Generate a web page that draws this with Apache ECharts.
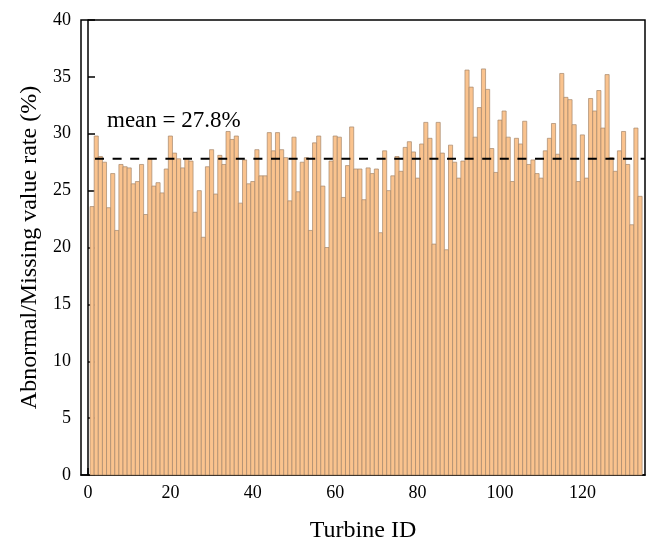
<!DOCTYPE html>
<html>
<head>
<meta charset="utf-8">
<script src="https://cdn.jsdelivr.net/npm/echarts@6/dist/echarts.min.js"></script>
<style>html,body{margin:0;padding:0;background:#fff;}#c{width:656px;height:548px;}</style>
</head>
<body>
<div id="c"></div>
<script>
// ---- data ----
const turbineIds = [];
for (let i = 1; i <= 134; i++) turbineIds.push(i);
const rates = [
  23.6, 29.8, 28.0, 27.5, 23.5, 26.5, 21.5, 27.3, 27.1, 27.0,
  25.6, 25.8, 27.3, 22.9, 27.8, 25.4, 25.7, 24.8, 26.9, 29.8,
  28.3, 27.8, 27.0, 27.8, 27.6, 23.1, 25.0, 20.9, 27.1, 28.6,
  24.7, 28.1, 27.3, 30.2, 29.5, 29.8, 23.9, 27.7, 25.6, 25.8,
  28.6, 26.3, 26.3, 30.1, 28.5, 30.1, 28.6, 27.9, 24.1, 29.7,
  24.9, 27.5, 27.9, 21.5, 29.2, 29.8, 25.4, 20.0, 27.6, 29.8,
  29.7, 24.4, 27.2, 30.6, 26.9, 26.9, 24.2, 27.0, 26.5, 26.9,
  21.3, 28.5, 25.0, 26.3, 28.0, 26.7, 28.8, 29.3, 28.4, 26.1,
  29.1, 31.0, 29.6, 20.3, 31.0, 28.3, 19.8, 29.0, 27.5, 26.1,
  27.6, 35.6, 34.1, 29.7, 32.3, 35.7, 33.9, 28.7, 26.6, 31.2,
  32.0, 29.7, 25.8, 29.6, 29.1, 31.1, 27.3, 27.7, 26.5, 26.1,
  28.5, 29.6, 30.9, 28.2, 35.3, 33.2, 33.0, 30.8, 25.8, 29.9,
  26.1, 33.1, 32.0, 33.8, 30.5, 35.2, 27.9, 26.7, 28.5, 30.2,
  27.3, 22.0, 30.5, 24.5
];
const xTickValues = [0, 20, 40, 60, 80, 100, 120];
const MEAN = 27.8;
const meanLabel = 'mean = 27.8%';

// ---- chart ----
const X_MIN = -1.7, X_MAX = 135.2;
const font = '"Liberation Serif", "Times New Roman", serif';
const barData = turbineIds.map((id, i) => [id, rates[i]]);

const chart = echarts.init(document.getElementById('c'), null, {renderer: 'canvas'});
chart.setOption({
  animation: false,
  backgroundColor: '#fff',
  grid: {left: 81, right: 11, top: 20, bottom: 63, show: true, borderColor: '#000', borderWidth: 1.5, containLabel: false},
  xAxis: {
    type: 'value', min: X_MIN, max: X_MAX,
    name: 'Turbine ID', nameLocation: 'middle', nameGap: 44,
    nameTextStyle: {fontFamily: font, fontSize: 24, color: '#000'},
    axisLine: {show: true, onZero: false, lineStyle: {color: '#000', width: 1.5}},
    axisTick: {show: true, inside: true, length: 7, customValues: xTickValues, lineStyle: {color: '#000', width: 1.5}},
    axisLabel: {customValues: xTickValues, fontFamily: font, fontSize: 18, color: '#000', margin: 9},
    splitLine: {show: false}
  },
  yAxis: {
    type: 'value', min: 0, max: 40, interval: 5,
    name: 'Abnormal/Missing value rate (%)', nameLocation: 'middle', nameGap: 35,
    nameTextStyle: {fontFamily: font, fontSize: 24, color: '#000'},
    axisLine: {show: true, lineStyle: {color: '#000', width: 1.5}},
    axisTick: {show: true, inside: true, length: 7, lineStyle: {color: '#000', width: 1.5}},
    axisLabel: {fontFamily: font, fontSize: 18, color: '#000', margin: 10},
    splitLine: {show: false}
  },
  series: [
    {
      type: 'custom',
      data: barData,
      renderItem: function (params, api) {
        const x = api.value(0), y = api.value(1);
        const p0 = api.coord([x - 0.5, y]);
        const p1 = api.coord([x + 0.5, 0]);
        return {
          type: 'rect',
          shape: {x: p0[0], y: p0[1], width: p1[0] - p0[0], height: p1[1] - p0[1]},
          style: {fill: '#FAC38E', stroke: '#A5866B', lineWidth: 0.7}
        };
      },
      z: 2
    },
    {
      type: 'line',
      data: [[1.7, MEAN], [X_MAX, MEAN]],
      symbol: 'none',
      lineStyle: {color: '#000', width: 2, type: [9, 8.6]},
      z: 5,
      silent: true
    }
  ],
  graphic: [{
    type: 'text', left: 107, top: 109, z: 10,
    style: {text: meanLabel, font: '23px ' + font, fill: '#000'}
  }]
});
</script>
</body>
</html>
